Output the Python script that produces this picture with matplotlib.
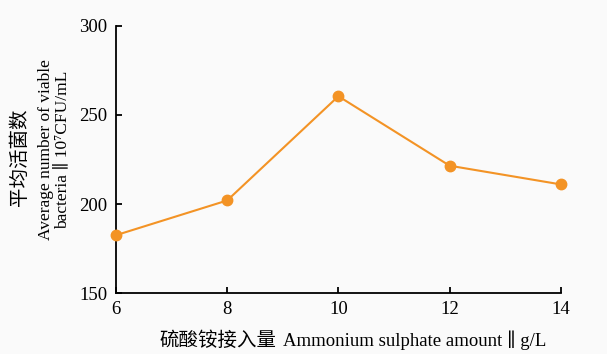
import matplotlib
matplotlib.use('Agg')
import matplotlib.pyplot as plt

AMOUNT = [6, 8, 10, 12, 14]
VIABLE = [182.5, 202, 260.5, 221.5, 211]
X_TICKS = [6, 8, 10, 12, 14]
Y_TICKS = [150, 200, 250, 300]
XLABEL_CN = '硫酸铵接入量'
XLABEL_EN = 'Ammonium sulphate amount ∥ g/L'
YLABEL_CN = '平均活菌数'
YLABEL_EN = 'Average number of viable\nbacteria ∥ 10⁷CFU/mL'

EN_FONT = ['Liberation Serif', 'DejaVu Serif']
CN_FONT = ['Noto Sans CJK SC', 'DejaVu Sans']
ORANGE = '#f39325'


def main():
    fig = plt.figure(figsize=(6.07, 3.54), dpi=100, facecolor='#fafafa')
    ax = fig.add_axes([0.191, 0.172, 0.733, 0.755])
    ax.set_facecolor('none')

    ax.plot(AMOUNT, VIABLE, color=ORANGE, lw=1.5, marker='o', ms=7.5,
            clip_on=False, zorder=3)

    ax.set_xlim(6, 14)
    ax.set_ylim(150, 300)
    ax.set_xticks(X_TICKS)
    ax.set_yticks(Y_TICKS)
    for side in ['top', 'right']:
        ax.spines[side].set_visible(False)
    for side in ['left', 'bottom']:
        ax.spines[side].set_linewidth(1.3)
    ax.tick_params(direction='in', length=4, width=1.3, pad=6)
    for lab in ax.get_xticklabels() + ax.get_yticklabels():
        lab.set_family('Liberation Serif')
        lab.set_fontsize(13.5)

    # axis titles: Chinese part in a CJK face, English part in a serif face
    y_x = 1 - 340 / 354
    fig.text(276 / 607, y_x, XLABEL_CN, family=CN_FONT, fontsize=14,
             ha='right', va='center')
    fig.text(283 / 607, y_x, XLABEL_EN, family=EN_FONT, fontsize=13.5,
             ha='left', va='center')
    fig.text(19 / 607, 1 - 157 / 354, YLABEL_CN, family=CN_FONT,
             fontsize=14, rotation=90, ha='center', va='center')
    fig.text(54 / 607, 1 - 150 / 354, YLABEL_EN, family=EN_FONT,
             fontsize=12.5, rotation=90, ha='center', va='center',
             multialignment='center', linespacing=1.05)

    fig.savefig('out.png', dpi=100, facecolor=fig.get_facecolor())


if __name__ == '__main__':
    main()
